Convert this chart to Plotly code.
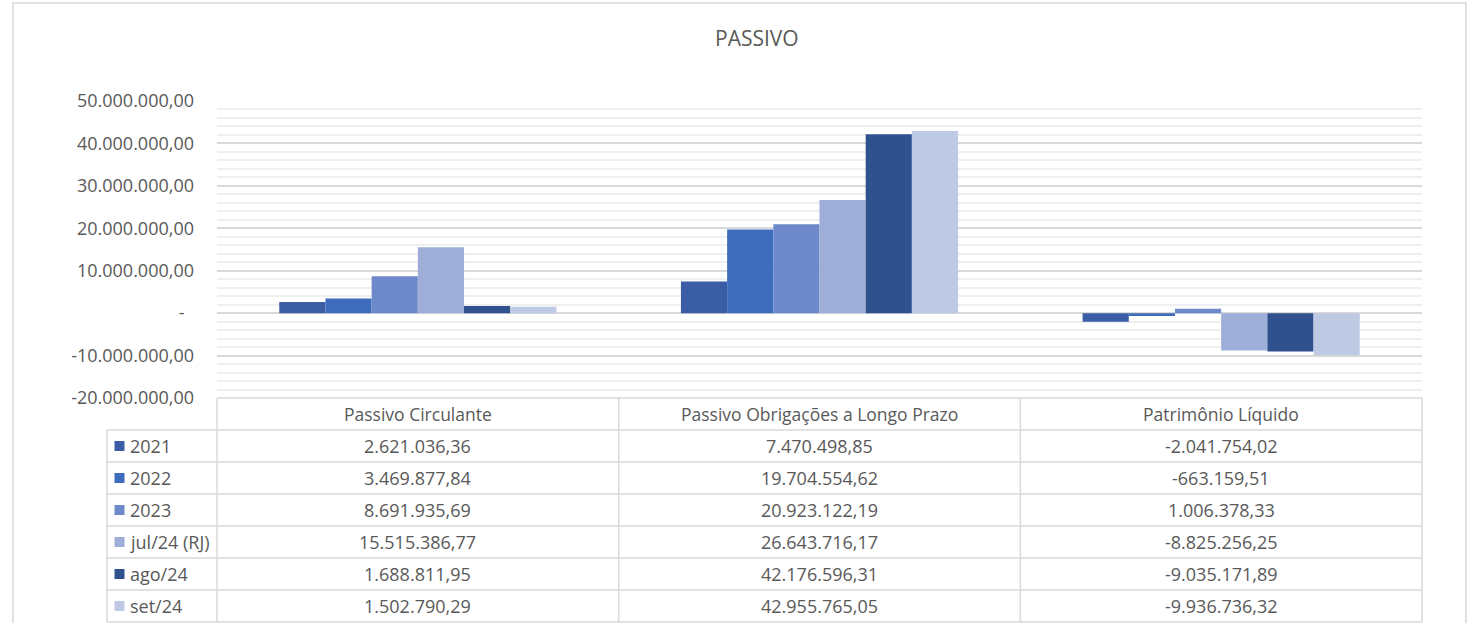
import plotly.graph_objects as go

# ---- data ----
categories = ["Passivo Circulante", "Passivo Obrigações a Longo Prazo", "Patrimônio Líquido"]
series_names = ["2021", "2022", "2023", "jul/24 (RJ)", "ago/24", "set/24"]
v2021 = [2621036.36, 7470498.85, -2041754.02]
v2022 = [3469877.84, 19704554.62, -663159.51]
v2023 = [8691935.69, 20923122.19, 1006378.33]
vjul24 = [15515386.77, 26643716.17, -8825256.25]
vago24 = [1688811.95, 42176596.31, -9035171.89]
vset24 = [1502790.29, 42955765.05, -9936736.32]
series_values = [v2021, v2022, v2023, vjul24, vago24, vset24]
tick_values = [-20000000, -10000000, 0, 10000000, 20000000, 30000000, 40000000, 50000000]
title_text = "PASSIVO"

colors = ["#3a5da6", "#3e6cbc", "#6d89ca", "#9eaed8", "#2f528f", "#bec9e4"]

W, H = 1468, 623
FONT = "Open Sans"
TXT = "#595959"
BORDER = "#d9d9d9"


def fmt_br(v):
    s = f"{v:,.2f}"
    return s.replace(",", "X").replace(".", ",").replace("X", ".")


def tick_fmt(v):
    return "-\u00a0\u00a0" if v == 0 else fmt_br(v)


def px_x(px):
    return px / W


def px_y(py):
    return 1 - py / H


# layout geometry (pixels)
PL, PR, PT, PB = 217, 1422, 101, 398
LEG_L = 107
ROW_H = 32
HEADER_BOTTOM = PB + ROW_H

fig = go.Figure()
for name, vals, col in zip(series_names, series_values, colors):
    fig.add_trace(go.Bar(
        x=categories, y=vals, name=name,
        marker=dict(color=col, line=dict(width=0)),
    ))

shapes = []
annotations = []

# outer chart border
shapes.append(dict(type="rect", xref="paper", yref="paper",
                   x0=px_x(13), x1=px_x(1466), y0=px_y(640), y1=px_y(3),
                   line=dict(color=BORDER, width=1.5), fillcolor="rgba(0,0,0,0)", layer="below"))

# table grid
n_rows = len(series_names)
bottom = HEADER_BOTTOM + ROW_H * n_rows
col_w = (PR - PL) / len(categories)
line_style = dict(color=BORDER, width=1.5)
shapes.append(dict(type="line", xref="paper", yref="paper", x0=px_x(PL), x1=px_x(PR),
                   y0=px_y(PB), y1=px_y(PB), line=line_style))
for r in range(n_rows + 1):
    yy = HEADER_BOTTOM + ROW_H * r
    shapes.append(dict(type="line", xref="paper", yref="paper", x0=px_x(LEG_L), x1=px_x(PR),
                       y0=px_y(yy), y1=px_y(yy), line=line_style))
shapes.append(dict(type="line", xref="paper", yref="paper", x0=px_x(LEG_L), x1=px_x(LEG_L),
                   y0=px_y(HEADER_BOTTOM), y1=px_y(bottom), line=line_style))
for c in range(len(categories) + 1):
    xx = PL + col_w * c
    shapes.append(dict(type="line", xref="paper", yref="paper", x0=px_x(xx), x1=px_x(xx),
                       y0=px_y(PB), y1=px_y(bottom), line=line_style))

# header text
for cat in categories:
    annotations.append(dict(x=cat, xref="x", y=px_y(PB + ROW_H / 2), yref="paper",
                            text=cat, showarrow=False, xanchor="center", yanchor="middle",
                            font=dict(family=FONT, size=17.5, color=TXT)))

# rows
for r, (name, vals, col) in enumerate(zip(series_names, series_values, colors)):
    yc = HEADER_BOTTOM + ROW_H * r + ROW_H / 2
    shapes.append(dict(type="rect", xref="paper", yref="paper",
                       x0=px_x(114.5), x1=px_x(124.5), y0=px_y(yc + 5), y1=px_y(yc - 5),
                       fillcolor=col, line=dict(width=0)))
    annotations.append(dict(x=px_x(128), xref="paper", y=px_y(yc), yref="paper",
                            text=name, showarrow=False, xanchor="left", yanchor="middle",
                            font=dict(family=FONT, size=18, color=TXT)))
    for cat, v in zip(categories, vals):
        annotations.append(dict(x=cat, xref="x", y=px_y(yc), yref="paper",
                                text=fmt_br(v), showarrow=False, xanchor="center", yanchor="middle",
                                font=dict(family=FONT, size=18, color=TXT)))

# title
annotations.append(dict(x=px_x(757), xref="paper", y=px_y(38), yref="paper",
                        text=title_text, showarrow=False, xanchor="center", yanchor="middle",
                        font=dict(family=FONT, size=21, color=TXT)))

fig.update_layout(
    width=W, height=H,
    margin=dict(l=0, r=0, t=0, b=0),
    paper_bgcolor="white", plot_bgcolor="white",
    barmode="group", bargap=0.31, bargroupgap=0,
    showlegend=False,
    shapes=shapes, annotations=annotations,
    font=dict(family=FONT, color=TXT),
    xaxis=dict(domain=[px_x(PL), px_x(PR)], showticklabels=False, showgrid=False,
               showline=False, zeroline=False, ticks=""),
    yaxis=dict(domain=[px_y(PB), px_y(PT)], range=[-20000000, 50000000],
               tickvals=tick_values, ticktext=[tick_fmt(v) for v in tick_values],
               tickfont=dict(family=FONT, size=18, color=TXT),
               showgrid=True, gridcolor="#d9d9d9", gridwidth=1.5,
               zeroline=True, zerolinecolor="#d9d9d9", zerolinewidth=1.5,
               minor=dict(dtick=2000000, showgrid=True, gridcolor="#efefef", gridwidth=1.5),
               ticks="", ticklabelstandoff=22, automargin=False, showline=False),
)

fig.write_html(
    "out.html",
    config={"displayModeBar": False},
    post_script="document.body.style.margin='0';document.body.style.overflow='hidden';",
)
